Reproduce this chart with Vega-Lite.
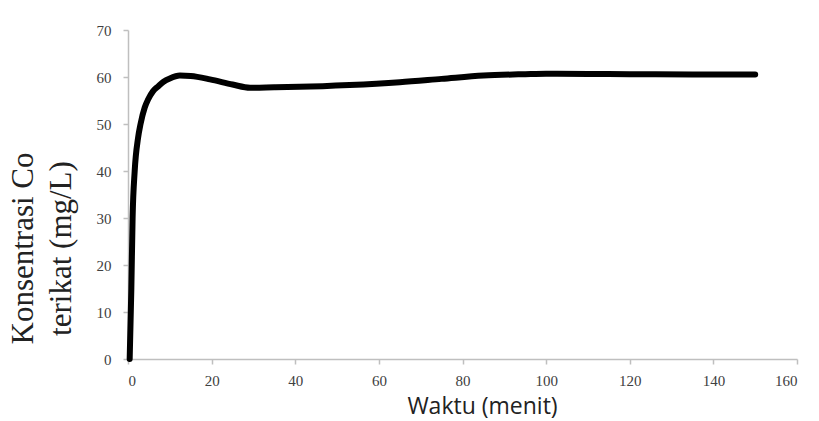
{
  "$schema": "https://vega.github.io/schema/vega-lite/v6.json",
  "width": 669,
  "height": 329,
  "autosize": "none",
  "padding": {"left": 128, "top": 30, "right": 22, "bottom": 62},
  "background": "white",
  "config": {"view": {"stroke": null}},
  "data": {"values": [
    {"t": 0.4, "c": 0},
    {"t": 0.8, "c": 15},
    {"t": 1.1, "c": 30},
    {"t": 1.6, "c": 40},
    {"t": 2.4, "c": 47},
    {"t": 3.0, "c": 50},
    {"t": 4.0, "c": 53.5},
    {"t": 4.8, "c": 55.2},
    {"t": 6.0, "c": 57},
    {"t": 7.2, "c": 58},
    {"t": 8.5, "c": 59},
    {"t": 10, "c": 59.7},
    {"t": 12.4, "c": 60.3},
    {"t": 15, "c": 60.2},
    {"t": 19.6, "c": 59.5},
    {"t": 25, "c": 58.4},
    {"t": 29.2, "c": 57.7},
    {"t": 35, "c": 57.8},
    {"t": 41, "c": 57.9},
    {"t": 53, "c": 58.3},
    {"t": 65, "c": 58.9},
    {"t": 75, "c": 59.6},
    {"t": 85, "c": 60.3},
    {"t": 95, "c": 60.6},
    {"t": 100, "c": 60.7},
    {"t": 110, "c": 60.65},
    {"t": 120, "c": 60.6},
    {"t": 135, "c": 60.55},
    {"t": 150, "c": 60.55}
  ]},
  "mark": {"type": "line", "color": "black", "strokeWidth": 6, "interpolate": "monotone", "strokeCap": "round", "strokeJoin": "round"},
  "encoding": {
    "x": {
      "field": "t", "type": "quantitative",
      "scale": {"domain": [0, 160], "nice": false, "zero": false},
      "axis": {
        "values": [0, 20, 40, 60, 80, 100, 120, 140, 160],
        "grid": false,
        "domainColor": "#bfbfbf", "domainWidth": 1.5,
        "tickColor": "#bfbfbf", "tickSize": 5, "tickWidth": 1.5,
        "labelFont": "Liberation Serif", "labelFontSize": 15, "labelColor": "#404040", "labelPadding": 9,
        "title": "Waktu (menit)",
        "titleFont": "Open Sans", "titleFontSize": 23, "titleFontWeight": "normal", "titleColor": "#222222",
        "titleX": 354, "titleY": 54, "titleBaseline": "alphabetic", "titleAlign": "center"
      }
    },
    "y": {
      "field": "c", "type": "quantitative",
      "scale": {"domain": [0, 70], "nice": false},
      "axis": {
        "values": [0, 10, 20, 30, 40, 50, 60, 70],
        "grid": false,
        "domainColor": "#bfbfbf", "domainWidth": 1.5,
        "tickColor": "#bfbfbf", "tickSize": 5, "tickWidth": 1.5,
        "labelFont": "Liberation Serif", "labelFontSize": 15, "labelColor": "#404040", "labelPadding": 12,
        "title": ["Konsentrasi Co", "terikat (mg/L)"],
        "titleFont": "Liberation Serif", "titleFontSize": 31, "titleFontWeight": "normal", "titleColor": "#222222",
        "titleLineHeight": 38, "titleAngle": -90, "titleBaseline": "top", "titleAlign": "center",
        "titleX": -120, "titleY": 218
      }
    }
  }
}
